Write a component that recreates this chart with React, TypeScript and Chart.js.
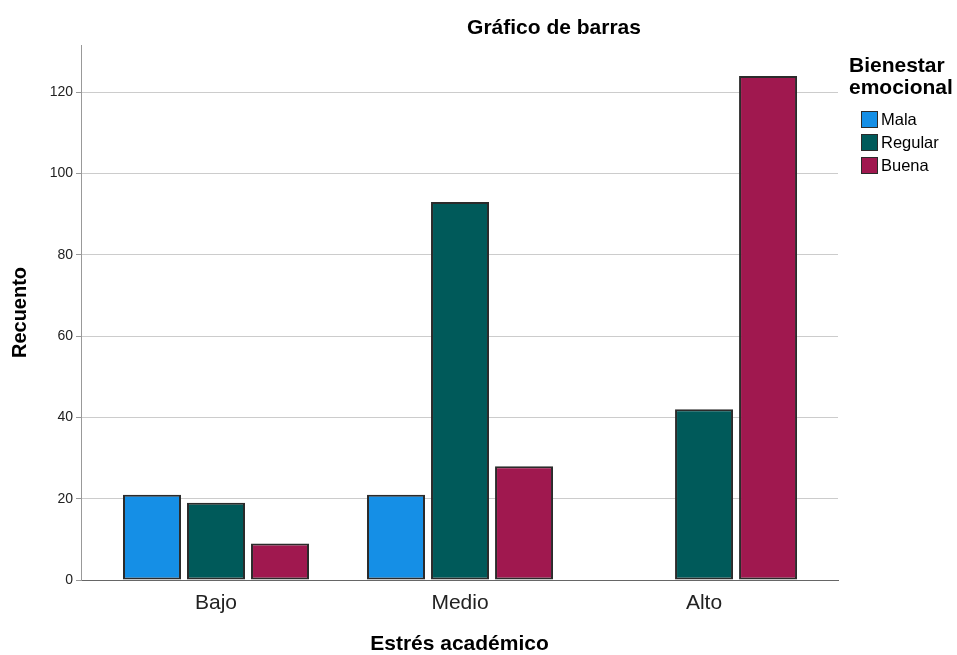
import { useEffect, useRef } from 'react';
import { Chart, registerables } from 'chart.js';

Chart.register(...registerables);

const CATEGORIES = ['Bajo', 'Medio', 'Alto'];
const SERIES_NAMES = ['Mala', 'Regular', 'Buena'];
const MALA = [21, 21, 0];
const REGULAR = [19, 93, 42];
const BUENA = [9, 28, 124];
const Y_TICKS = [0, 20, 40, 60, 80, 100, 120];
const Y_MAX = 131.6;
const COLORS = ['#158fe6', '#005a5a', '#a0184f'];
const TITLE = 'Gráfico de barras';
const X_TITLE = 'Estrés académico';
const Y_TITLE = 'Recuento';
const LEGEND_TITLE = ['Bienestar', 'emocional'];

const FONT = "'Liberation Sans', Arial, sans-serif";

export default function App() {
  const ref = useRef<HTMLCanvasElement>(null);

  useEffect(() => {
    document.body.style.margin = '0';
    const overlay = {
      id: 'overlay',
      afterDraw(chart: any) {
        const ctx = chart.ctx;
        ctx.save();
        ctx.fillStyle = '#000';
        ctx.textBaseline = 'middle';
        ctx.textAlign = 'center';
        ctx.font = `bold 21px ${FONT}`;
        ctx.fillText(TITLE, 554, 28);
        ctx.textAlign = 'left';
        LEGEND_TITLE.forEach((t, i) => ctx.fillText(t, 849, 66 + i * 22));
        ctx.font = `16.5px ${FONT}`;
        chart.data.datasets.forEach((ds: any, i: number) => {
          const y = 120 + i * 23;
          ctx.fillStyle = ds.backgroundColor;
          ctx.fillRect(861.5, y - 8.5, 16, 16);
          ctx.strokeStyle = '#2b2b2b';
          ctx.lineWidth = 1;
          ctx.strokeRect(861.5, y - 8.5, 16, 16);
          ctx.fillStyle = '#000';
          ctx.fillText(ds.label, 881, y);
        });
        ctx.restore();
      },
    };

    const series = [MALA, REGULAR, BUENA];
    const chart = new Chart(ref.current as HTMLCanvasElement, {
      type: 'bar',
      data: {
        labels: CATEGORIES.map((_, i) => i),
        datasets: series.map((data, i) => ({
          label: SERIES_NAMES[i],
          data,
          backgroundColor: COLORS[i],
          borderColor: '#2b2b2b',
          borderWidth: 2,
          borderSkipped: false,
          categoryPercentage: 0.787,
          barPercentage: 0.906,
        })),
      },
      options: {
        responsive: false,
        animation: false,
        devicePixelRatio: 1,
        layout: { padding: { left: 0, right: 119, top: 45, bottom: 0 } },
        plugins: {
          legend: { display: false },
          title: { display: false },
          tooltip: { enabled: false },
        },
        scales: {
          x: {
            type: 'linear',
            min: -0.5533,
            max: 2.549,
            offset: false,
            afterBuildTicks: (s: any) => {
              s.ticks = CATEGORIES.map((_, i) => ({ value: i }));
            },
            afterFit: (s: any) => {
              s.height = 75;
            },
            ticks: {
              callback: (_v: any, idx: number) => CATEGORIES[idx] ?? '',
              font: { size: 21, family: FONT },
              color: '#222',
              padding: 11,
              autoSkip: false,
              maxRotation: 0,
            },
            grid: { display: false, drawTicks: false },
            border: { display: true, color: '#666', width: 1 },
            title: {
              display: true,
              text: X_TITLE,
              font: { size: 21, weight: 'bold', family: FONT, lineHeight: 1.0 },
              color: '#000',
              padding: { top: 0, bottom: 0 },
            },
          },
          y: {
            min: 0,
            max: Y_MAX,
            afterBuildTicks: (s: any) => {
              s.ticks = Y_TICKS.map((v) => ({ value: v }));
            },
            afterFit: (s: any) => {
              s.width = 81;
            },
            ticks: {
              font: { size: 14, family: FONT },
              color: '#222',
              padding: 3,
            },
            grid: { color: '#cccccc', tickLength: 5, tickColor: '#999', lineWidth: 1 },
            border: { color: '#999', width: 1 },
            title: {
              display: true,
              text: Y_TITLE,
              font: { size: 20, weight: 'bold', family: FONT },
              color: '#000',
              padding: { top: 8, bottom: 0 },
            },
          },
        },
      } as any,
      plugins: [overlay],
    });
    return () => chart.destroy();
  }, []);

  return (
    <div style={{ width: 957, height: 655 }}>
      <canvas ref={ref} width={957} height={655} />
    </div>
  );
}
